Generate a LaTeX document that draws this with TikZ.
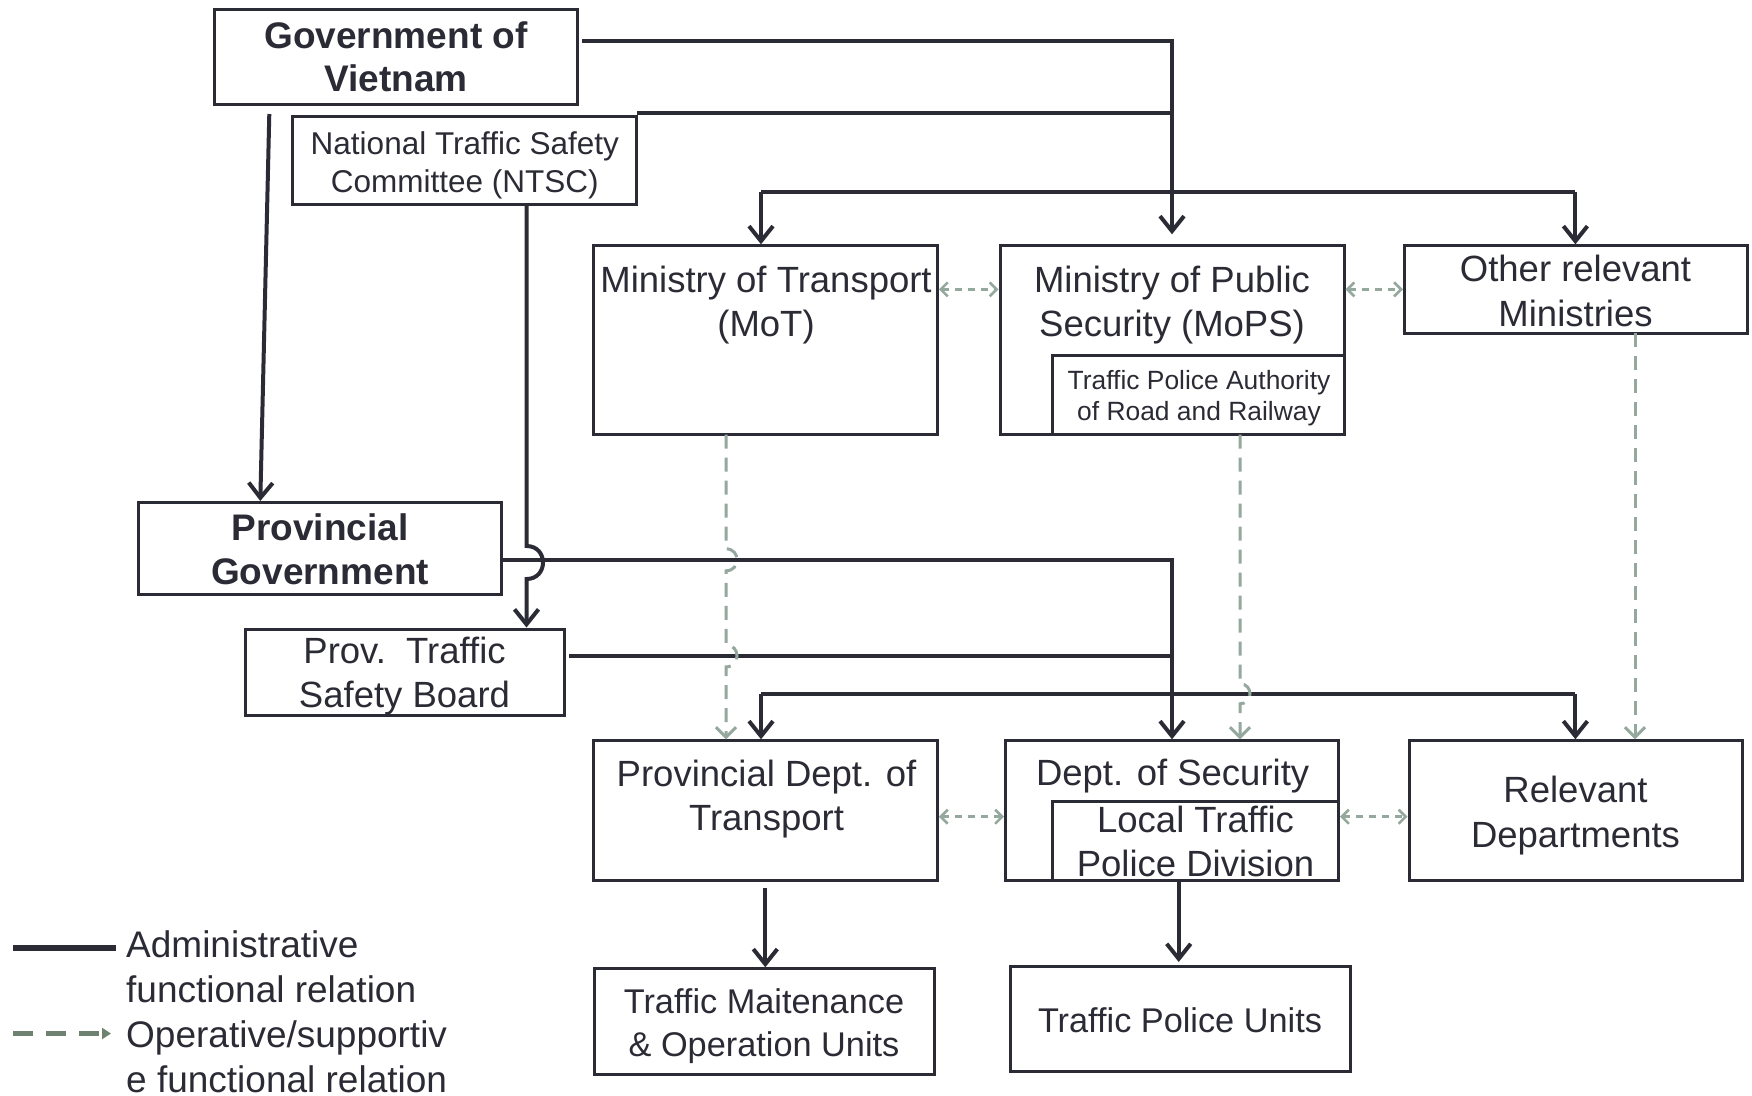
\documentclass[tikz,border=0pt]{standalone}
\usepackage{fontspec}
\setmainfont{Liberation Sans}
\usetikzlibrary{arrows.meta}
\definecolor{dk}{HTML}{2B2B35}
\definecolor{gd}{HTML}{94A89D}
\definecolor{gl}{HTML}{6E8271}
\begin{document}
\begin{tikzpicture}[x=1pt,y=-1pt,
  box/.style={draw=dk, line width=3pt, inner sep=0pt},
  tx/.style={text=dk, align=center, inner sep=0pt},
  fA/.style={tx, font=\fontsize{36.5}{44.5}\selectfont},
  fB/.style={tx, font=\fontsize{37}{43}\selectfont\bfseries},
  fC/.style={tx, font=\fontsize{31.5}{38}\selectfont},
  fD/.style={tx, font=\fontsize{26.4}{31.3}\selectfont},
  fE/.style={tx, font=\fontsize{34.3}{42.5}\selectfont},
  adm/.style={draw=dk, line width=4pt},
  admarr/.style={adm, -{Straight Barb[length=15pt,width=24pt]}},
  opv/.style={draw=gd, line width=3pt, dash pattern=on 14pt off 9pt, -{Straight Barb[length=10pt,width=20pt]}},
  oph/.style={draw=gd, line width=2.6pt, dash pattern=on 7pt off 6pt, {Straight Barb[length=7pt,width=14pt]}-{Straight Barb[length=7pt,width=14pt]}}
]
\useasboundingbox (0,0) rectangle (1752,1095);

% ---------- boxes ----------
\node[box, minimum width=363pt, minimum height=95pt] (gov) at (396,56.5) {};
\node[box, minimum width=344pt, minimum height=88pt] (ntsc) at (464.8,160.4) {};
\node[box, minimum width=344pt, minimum height=188.8pt] (mot) at (765.4,340.2) {};
\node[box, minimum width=344pt, minimum height=188.8pt] (mops) at (1172,340.2) {};
\node[box, minimum width=291.5pt, minimum height=79.3pt] (tpa) at (1198.3,395) {};
\node[box, minimum width=343pt, minimum height=87.2pt] (other) at (1575.9,289.4) {};
\node[box, minimum width=363.2pt, minimum height=91.6pt] (provgov) at (320.1,548.6) {};
\node[box, minimum width=318.4pt, minimum height=86pt] (ptsb) at (405,672) {};
\node[box, minimum width=344pt, minimum height=139.6pt] (pdt) at (765.4,810.6) {};
\node[box, minimum width=333pt, minimum height=139.6pt] (ds) at (1172,810.6) {};
\node[box, minimum width=286pt, minimum height=79.4pt] (ltpd) at (1195.5,840.7) {};
\node[box, minimum width=333pt, minimum height=139.6pt] (rel) at (1575.5,810.6) {};
\node[box, minimum width=339.6pt, minimum height=106pt] (tmou) at (764.2,1021.75) {};
\node[box, minimum width=340.8pt, minimum height=105pt] (tpu) at (1180.4,1019) {};

% ---------- texts ----------
\node[fB] (govT) at (396,61) {\strut Government of\\\strut Vietnam};
\node[fC] (ntscT) at (464.8,166) {\strut National Traffic Safety\\\strut Committee (NTSC)};
\node[fA] (motT) at (766,305.5) {\strut Ministry of Transport\\\strut (MoT)};
\node[fA] (mopsT) at (1172,305.5) {\strut Ministry of Public\\\strut Security (MoPS)};
\node[fD] (tpaT) at (1199,399) {\strut Traffic Police Authority\\\strut of Road and Railway};
\node[fA] (otherT) at (1575.5,295) {\strut Other relevant\\\strut Ministries};
\node[fB, font=\fontsize{37}{44.5}\selectfont\bfseries] (provgovT) at (320,553.5) {\strut Provincial\\\strut Government};
\node[fA, font=\fontsize{36.5}{43.6}\selectfont] (ptsbT) at (404.5,677) {\strut Prov.\ \ Traffic\\\strut Safety Board};
\node[fA] (pdtT) at (766.5,799.5) {\strut Provincial Dept. of\\\strut Transport};
\node[fA] (dsT) at (1172.6,777) {\strut Dept. of Security};
\node[fA] (ltpdT) at (1195.5,845.5) {\strut Local Traffic\\\strut Police Division};
\node[fA] (relT) at (1575.5,816) {\strut Relevant\\\strut Departments};
\node[fE] (tmouT) at (764,1026.3) {\strut Traffic Maitenance\\\strut \& Operation Units};
\node[fE] (tpuT) at (1180,1024) {\strut Traffic Police Units};

% ---------- administrative connectors ----------
\coordinate (g1) at (582,41.3);
\draw[admarr, shorten >=10pt] (g1) -| (mops.north);
\coordinate (n1) at (637,113);
\coordinate (j1) at (1172,113);
\draw[adm] (n1) -- (j1);
\coordinate (b1L) at (761,192.2);
\coordinate (b1R) at (1575.4,192.2);
\draw[adm] (b1L) -- (b1R);
\draw[admarr] (b1L) -- (b1L |- mot.north);
\draw[admarr] (b1R) -- (b1R |- other.north);

\coordinate (g2) at (269.3,114);
\coordinate (pg1) at (260.3,501);
\draw[admarr] (g2) -- (pg1);

\coordinate (n2) at (526.5,204.5);
\draw[admarr] (n2) -- (526.5,546) .. controls (548.5,546) and (548.5,579) .. (526.5,579) -- (n2 |- ptsb.north);

\coordinate (p1) at (501.7,559.8);
\draw[admarr] (p1) -| (ds.north);
\coordinate (s1) at (568.7,655.9);
\coordinate (s2) at (1172,655.9);
\draw[adm] (s1) -- (s2);
\coordinate (b2L) at (761,693.8);
\coordinate (b2R) at (1575.4,693.8);
\draw[adm] (b2L) -- (b2R);
\draw[admarr] (b2L) -- (b2L |- pdt.north);
\draw[admarr] (b2R) -- (b2R |- rel.north);

\coordinate (pd1) at (765.3,888);
\draw[admarr] (pd1) -- (pd1 |- tmou.north);
\coordinate (ds1) at (1178.7,881);
\draw[admarr] (ds1) -- (1178.7,962);

% ---------- operative connectors ----------
\coordinate (m1) at (726,434.6);
\draw[opv] (m1) -- (726,548.8) .. controls (740.7,548.8) and (740.7,570.8) .. (726,570.8)
  -- (726,644.9) .. controls (740.7,644.9) and (740.7,666.9) .. (726,666.9) -- (m1 |- pdt.north);
\coordinate (t1) at (1240,434.6);
\draw[opv] (t1) -- (1240,683.8) .. controls (1253.3,683.8) and (1253.3,703.8) .. (1240,703.8) -- (t1 |- ds.north);
\coordinate (o1) at (1635,333);
\draw[opv] (o1) -- (o1 |- rel.north);

\draw[oph] (mot.east |- 0,289.4) -- (mops.west |- 0,289.4);
\draw[oph] (mops.east |- 0,289.4) -- (other.west |- 0,289.4);
\draw[oph] (pdt.east |- 0,816.7) -- (ds.west |- 0,816.7);
\draw[oph] (ds.east |- 0,816.7) -- (rel.west |- 0,816.7);

% ---------- legend ----------
\coordinate (l1) at (13,947.5);
\coordinate (l2) at (116,947.5);
\draw[dk, line width=6pt] (l1) -- (l2);
\coordinate (l3) at (13,1033.5);
\coordinate (l4) at (111,1033.5);
\draw[gl, line width=5pt, dash pattern=on 20pt off 13pt, -{Triangle[length=9pt,width=11pt]}] (l3) -- (l4);
\node[tx, font=\fontsize{37}{44.7}\selectfont, align=left, anchor=west] (legT) at (126,1016)
  {\strut Administrative\\\strut functional relation\\\strut Operative/supportiv\\\strut e functional relation};
\end{tikzpicture}
\end{document}
